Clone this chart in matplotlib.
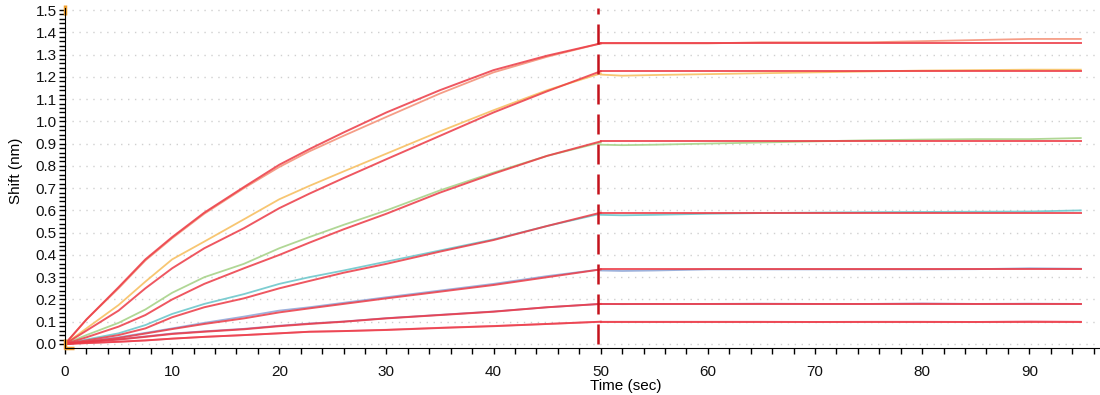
import numpy as np
import matplotlib
matplotlib.use("Agg")
import matplotlib.pyplot as plt
from matplotlib.ticker import MultipleLocator, FormatStrFormatter

plt.rcParams['font.family'] = ['Liberation Sans', 'DejaVu Sans']

# association phase time points (sec)
assoc_t = [0, 2, 5, 7.5, 10, 13, 16.7, 20, 22.8, 26, 30, 35, 40, 45, 50]
# dissociation phase time points (sec)
dissoc_t = [50, 52, 55, 60, 65, 70, 75, 80, 85, 90, 94.8]
step_time = 49.7

# measured traces (association)
data_assoc = [
    [0, 0.11, 0.25, 0.375, 0.475, 0.585, 0.70, 0.795, 0.865, 0.935, 1.02, 1.125, 1.22, 1.29, 1.35],
    [0, 0.07, 0.175, 0.28, 0.38, 0.46, 0.56, 0.65, 0.71, 0.775, 0.855, 0.955, 1.05, 1.14, 1.215],
    [0, 0.04, 0.095, 0.155, 0.23, 0.30, 0.36, 0.43, 0.48, 0.535, 0.60, 0.69, 0.77, 0.845, 0.905],
    [0, 0.02, 0.048, 0.085, 0.135, 0.18, 0.224, 0.27, 0.30, 0.33, 0.37, 0.42, 0.47, 0.53, 0.585],
    [0, 0.012, 0.03, 0.05, 0.07, 0.095, 0.123, 0.15, 0.165, 0.185, 0.21, 0.24, 0.27, 0.305, 0.335],
    [0, 0.009, 0.021, 0.034, 0.047, 0.057, 0.068, 0.082, 0.092, 0.101, 0.116, 0.131, 0.146, 0.165, 0.18],
    [0, 0.004, 0.01, 0.016, 0.024, 0.032, 0.04, 0.048, 0.055, 0.058, 0.064, 0.073, 0.081, 0.09, 0.10],
]
# measured traces (dissociation)
data_dissoc = [
    [1.35, 1.35, 1.35, 1.35, 1.355, 1.355, 1.355, 1.36, 1.365, 1.37, 1.37],
    [1.21, 1.205, 1.208, 1.212, 1.216, 1.22, 1.224, 1.228, 1.23, 1.232, 1.232],
    [0.895, 0.893, 0.895, 0.90, 0.905, 0.91, 0.915, 0.918, 0.92, 0.92, 0.925],
    [0.58, 0.578, 0.58, 0.585, 0.588, 0.59, 0.592, 0.593, 0.594, 0.595, 0.60],
    [0.33, 0.328, 0.33, 0.335, 0.335, 0.335, 0.335, 0.335, 0.336, 0.34, 0.338],
    [0.18, 0.179, 0.18, 0.18, 0.181, 0.18, 0.18, 0.182, 0.18, 0.181, 0.18],
    [0.10, 0.10, 0.10, 0.10, 0.10, 0.099, 0.10, 0.10, 0.099, 0.102, 0.10],
]
# fitted curves (association) and fitted plateau levels (dissociation)
fit_assoc = [
    [0, 0.11, 0.255, 0.38, 0.48, 0.59, 0.705, 0.805, 0.875, 0.95, 1.04, 1.14, 1.23, 1.295, 1.35],
    [0, 0.06, 0.15, 0.25, 0.34, 0.43, 0.52, 0.61, 0.675, 0.745, 0.83, 0.935, 1.04, 1.135, 1.225],
    [0, 0.03, 0.078, 0.13, 0.20, 0.27, 0.34, 0.40, 0.455, 0.515, 0.585, 0.68, 0.765, 0.845, 0.91],
    [0, 0.016, 0.04, 0.07, 0.12, 0.165, 0.205, 0.25, 0.283, 0.32, 0.36, 0.415, 0.467, 0.53, 0.59],
    [0, 0.01, 0.027, 0.047, 0.067, 0.09, 0.115, 0.142, 0.16, 0.18, 0.205, 0.235, 0.265, 0.30, 0.335],
    [0, 0.008, 0.02, 0.032, 0.045, 0.055, 0.066, 0.08, 0.09, 0.10, 0.115, 0.13, 0.145, 0.165, 0.18],
    [0, 0.004, 0.01, 0.016, 0.024, 0.032, 0.04, 0.048, 0.055, 0.058, 0.063, 0.072, 0.08, 0.09, 0.10],
]
fit_levels = [1.35, 1.225, 0.91, 0.59, 0.335, 0.18, 0.10]

data_colors = ['#f4937a', '#f7c063', '#a8d38a', '#6fc8cc', '#93a9d8', '#a97cb6', '#f28aa0']
fit_color = '#ec3a45'


def create_chart():
    fig = plt.figure(figsize=(11, 3.95), dpi=100)
    ax = fig.add_axes([65 / 1100, 1 - 348 / 395, 1034 / 1100, 340 / 395])

    for i in range(len(fit_levels)):
        ax.plot(assoc_t, data_assoc[i], color=data_colors[i], lw=1.3, alpha=0.9)
        ax.plot(dissoc_t, data_dissoc[i], color=data_colors[i], lw=1.3, alpha=0.9)
    for i in range(len(fit_levels)):
        ax.plot(assoc_t, fit_assoc[i], color=fit_color, lw=1.4, alpha=0.85)
        ax.plot([dissoc_t[0], dissoc_t[-1]], [fit_levels[i], fit_levels[i]],
                color=fit_color, lw=1.4, alpha=0.85)

    ymin, ymax = -0.018, 1.509
    ax.set_xlim(0, 96.5)
    ax.set_ylim(ymin, ymax)
    ax.vlines(step_time, 0, ymax, color='#c4121c', lw=1.8, linestyles=(0, (8, 4)))

    ax.yaxis.set_major_locator(MultipleLocator(0.1))
    ax.yaxis.set_minor_locator(MultipleLocator(0.02))
    ax.xaxis.set_major_locator(MultipleLocator(10))
    ax.xaxis.set_minor_locator(MultipleLocator(2))
    ax.yaxis.set_major_formatter(FormatStrFormatter('%.1f'))
    ax.tick_params(which='both', direction='out', length=4, width=1, labelsize=11,
                   labelcolor='#111111', pad=2)
    ax.tick_params(axis='x', pad=8)

    ax.grid(axis='y', color='#d0d0d0', linestyle=(0, (1, 4)), lw=1)
    ax.set_axisbelow(True)
    for s in ['top', 'right']:
        ax.spines[s].set_visible(False)

    # orange range handles on the axes
    ax.plot([0, 0], [0, 1.5], ls='none', marker='|', ms=7, mew=2.5,
            color='#f0a030', clip_on=False)
    ax.plot([0.4], [ymin], ls='none', marker='_', ms=7, mew=2.5,
            color='#f0a030', clip_on=False)

    ax.set_ylabel('Shift (nm)', fontsize=11)
    ax.yaxis.set_label_coords(-0.041, 0.52)
    ax.set_xlabel('Time (sec)', fontsize=11)
    ax.xaxis.set_label_coords(0.542, -0.092)

    fig.savefig('out.png', dpi=100)
    plt.close(fig)


if __name__ == "__main__":
    create_chart()
